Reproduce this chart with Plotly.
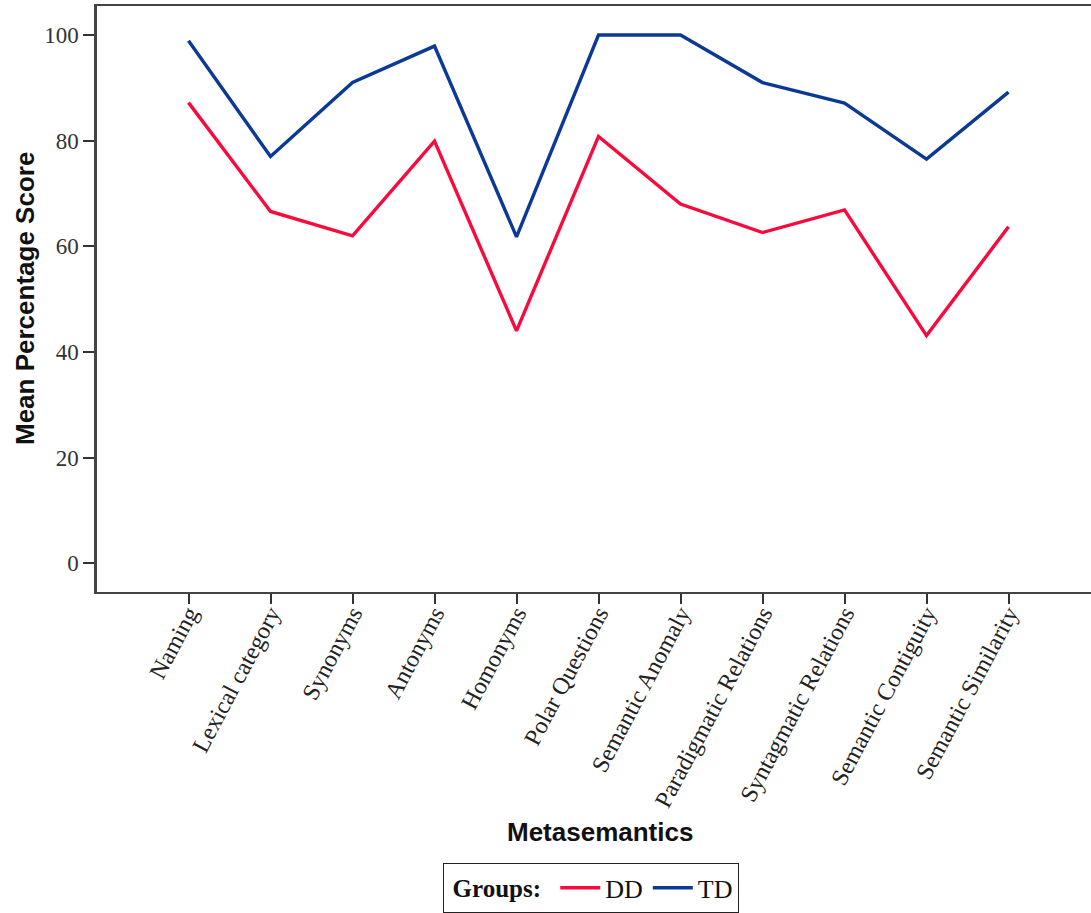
import plotly.graph_objects as go

categories = ["Naming", "Lexical category", "Synonyms", "Antonyms", "Homonyms",
              "Polar Questions", "Semantic Anomaly", "Paradigmatic Relations",
              "Syntagmatic Relations", "Semantic Contiguity", "Semantic Similarity"]
dd_values = [87.2, 66.6, 62.0, 79.9, 44.0, 80.8, 68.0, 62.6, 66.9, 43.1, 63.7]
td_values = [98.9, 77.0, 91.0, 97.9, 61.8, 100.0, 100.0, 91.0, 87.1, 76.5, 89.2]
y_ticks = [0, 20, 40, 60, 80, 100]

x_idx = list(range(len(categories)))

fig = go.Figure()
fig.add_trace(go.Scatter(x=x_idx, y=dd_values, mode="lines", name="DD",
                         line=dict(color="#FA0A3C", width=3.4)))
fig.add_trace(go.Scatter(x=x_idx, y=td_values, mode="lines", name="TD",
                         line=dict(color="#0B3A96", width=3.4)))

W, H = 1091, 913
L, R, T, B = 97, 0, 6, 321
pw = W - L - R
ph = H - T - B

fig.update_layout(
    width=W, height=H,
    margin=dict(l=L, r=R, t=T, b=B, pad=0),
    paper_bgcolor="white", plot_bgcolor="white",
    showlegend=True,
    legend=dict(
        orientation="h",
        x=(443 - L) / pw, xanchor="left",
        y=-(863 - (T + ph)) / ph, yanchor="top",
        bordercolor="#222", borderwidth=1.3,
        font=dict(family="Liberation Serif", size=26, color="#111"),
        title=dict(text="&nbsp;<b>Groups:</b>&nbsp;", font=dict(family="Liberation Serif", size=25, color="#111")),
        itemwidth=40,
    ),
    xaxis=dict(
        range=[-1.116, 11.006],
        tickmode="array", tickvals=x_idx, ticktext=categories,
        tickangle=-62,
        ticks="outside", ticklen=10, tickwidth=2, tickcolor="#333",
        ticklabelstandoff=-14,
        showline=True, linecolor="#444", linewidth=2, mirror=True,
        showgrid=False, zeroline=False,
        tickfont=dict(family="Liberation Serif", size=24, color="#222"),
    ),
    yaxis=dict(
        range=[-5.43, 105.49],
        tickmode="array", tickvals=y_ticks, ticktext=[str(v) for v in y_ticks],
        ticks="outside", ticklen=11, tickwidth=2, tickcolor="#333",
        showline=True, linecolor="#444", linewidth=2.5,
        showgrid=False, zeroline=False,
        tickfont=dict(family="Liberation Serif", size=23, color="#333"),
    ),
    annotations=[
        dict(text="<b>Mean Percentage Score</b>", xref="paper", yref="paper",
             x=(25 - L) / pw, y=0.5, xanchor="center", yanchor="middle",
             textangle=-90, showarrow=False,
             font=dict(family="Liberation Sans", size=26, color="#111")),
        dict(text="<b>Metasemantics</b>", xref="paper", yref="paper",
             x=(600 - L) / pw, y=-(832 - (T + ph)) / ph, xanchor="center", yanchor="middle",
             showarrow=False,
             font=dict(family="Liberation Sans", size=26, color="#111")),
    ],
)

fig.write_html("out.html", config={"displayModeBar": False},
               post_script="document.body.style.margin='0';document.body.style.overflow='hidden';")
